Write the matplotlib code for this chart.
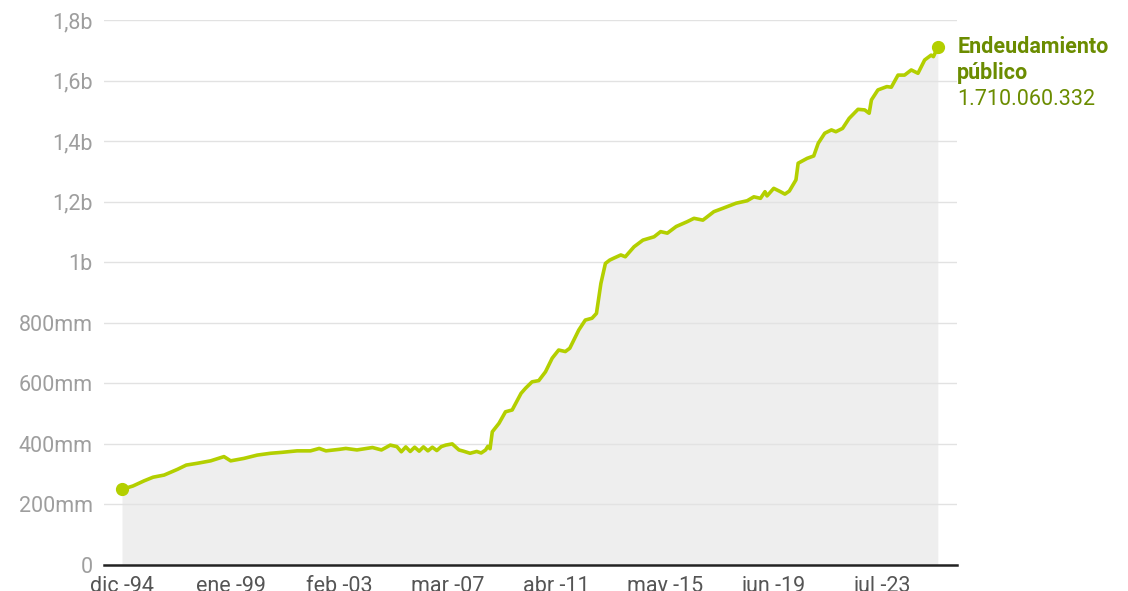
import matplotlib
matplotlib.use("Agg")
import matplotlib.pyplot as plt
import pandas as pd

# ---------------- data (millions) ----------------
dates = [
    "1994-12", "1995-05", "1995-10", "1996-02", "1996-07", "1997-01", "1997-05", "1997-10",
    "1998-04", "1998-10", "1999-01", "1999-07", "2000-01", "2000-07", "2000-12", "2001-07",
    "2002-01", "2002-05", "2002-08", "2003-02", "2003-05", "2003-10", "2004-05", "2004-09",
    "2005-01", "2005-04", "2005-06", "2005-08", "2005-10", "2005-12", "2006-02", "2006-04",
    "2006-06", "2006-08", "2006-10", "2006-12", "2007-02", "2007-05", "2007-08", "2007-10",
    "2008-01", "2008-04", "2008-06", "2008-08", "2008-09", "2008-10", "2008-11", "2009-02",
    "2009-05", "2009-08", "2009-12", "2010-02", "2010-05", "2010-08", "2010-11", "2011-02",
    "2011-05", "2011-08", "2011-10", "2012-02", "2012-05", "2012-08", "2012-10", "2012-12",
    "2013-02", "2013-04", "2013-06", "2013-09", "2013-11", "2014-03", "2014-07", "2014-12",
    "2015-03", "2015-06", "2015-10", "2016-03", "2016-06", "2016-10", "2017-03", "2017-07",
    "2018-01", "2018-06", "2018-09", "2018-12", "2019-02", "2019-03", "2019-06", "2019-09",
    "2019-11", "2020-01", "2020-04", "2020-05", "2020-09", "2020-12", "2021-02", "2021-05",
    "2021-08", "2021-10", "2022-01", "2022-04", "2022-08", "2022-11", "2023-01", "2023-02",
    "2023-05", "2023-09", "2023-11", "2024-02", "2024-05", "2024-08", "2024-11", "2025-02",
    "2025-05", "2025-06", "2025-08",
]
values = [
    250, 261, 278, 290, 297, 316, 330, 336,
    344, 358, 344, 352, 363, 369, 372, 377,
    377, 385, 377, 382, 385, 380, 388, 380,
    396, 391, 374, 390, 375, 389, 376, 390,
    377, 389, 378, 391, 396, 400, 380, 376,
    369, 375, 370, 380, 392, 384, 440, 468,
    506, 512, 567, 584, 605, 609, 638, 683,
    710, 705, 716, 776, 809, 815, 831, 930,
    996, 1007, 1014, 1024, 1018, 1051, 1073, 1084,
    1101, 1096, 1118, 1134, 1145, 1139, 1167, 1178,
    1195, 1203, 1216, 1211, 1233, 1219, 1244, 1233,
    1225, 1235, 1272, 1327, 1343, 1351, 1393, 1426,
    1437, 1431, 1442, 1475, 1505, 1503, 1492, 1536,
    1569, 1580, 1578, 1618, 1618, 1635, 1624, 1668,
    1684, 1679, 1710.060332,
]
series_name = ["Endeudamiento", "público"]
x_tick_dates = ["1994-12", "1999-01", "2003-02", "2007-03", "2011-04", "2015-05", "2019-06", "2023-07"]
x_tick_labels = ["dic -94", "ene -99", "feb -03", "mar -07", "abr -11", "may -15", "jun -19", "jul -23"]
y_ticks = [0, 200, 400, 600, 800, 1000, 1200, 1400, 1600, 1800]
y_tick_labels = ["0", "200mm", "400mm", "600mm", "800mm", "1b", "1,2b", "1,4b", "1,6b", "1,8b"]

# ---------------- style ----------------
LINE = "#b3cf00"
LABEL = "#6b8c00"
FILL = "#eeeeee"
FS = 15.5
plt.rcParams["font.family"] = ["Roboto", "DejaVu Sans"]

x = pd.to_datetime(dates)
fig = plt.figure(figsize=(11.28, 5.91), dpi=100)
ax = fig.add_axes([104 / 1128, 1 - 565 / 591, (957 - 104) / 1128, (565 - 20) / 591])

ax.fill_between(x, values, 0, color=FILL, lw=0, zorder=1)
ax.plot(x, values, color=LINE, lw=2.6, zorder=3, solid_joinstyle="round")
ax.plot([x[0], x[-1]], [values[0], values[-1]], "o", color=LINE, ms=8.5, zorder=4)

ax.set_ylim(0, 1800)
ax.set_xlim(x[0] - pd.Timedelta(days=247), x[0] + pd.Timedelta(days=11464))
ax.set_yticks(y_ticks)
ax.set_yticklabels(y_tick_labels)
ax.set_xticks(pd.to_datetime(x_tick_dates))
ax.set_xticklabels(x_tick_labels)

ax.set_axisbelow(False)
ax.yaxis.grid(True, color="#e2e2e2", lw=1.0, zorder=2)
ax.xaxis.grid(False)
for s in ["top", "right", "left"]:
    ax.spines[s].set_visible(False)
ax.spines["bottom"].set_color("#222222")
ax.spines["bottom"].set_linewidth(1.8)
ax.spines["bottom"].set_zorder(5)
ax.tick_params(axis="y", length=0, pad=8, labelsize=FS, labelcolor="#9e9e9e")
ax.tick_params(axis="x", length=0, pad=8, labelsize=FS, labelcolor="#555555")

last_val = int(round(values[-1] * 1e6))
val_text = f"{last_val:,}".replace(",", ".")
ax.annotate(series_name[0], xy=(x[-1], values[-1]), xytext=(14, 0), textcoords="offset points",
            ha="left", va="center", fontsize=FS, fontweight="bold", color=LABEL, annotation_clip=False)
ax.annotate(series_name[1], xy=(x[-1], values[-1]), xytext=(14, -18.5), textcoords="offset points",
            ha="left", va="center", fontsize=FS, fontweight="bold", color=LABEL, annotation_clip=False)
ax.annotate(val_text, xy=(x[-1], values[-1]), xytext=(14, -37.5), textcoords="offset points",
            ha="left", va="center", fontsize=FS, color=LABEL, annotation_clip=False)

fig.savefig("out.png", dpi=100)
